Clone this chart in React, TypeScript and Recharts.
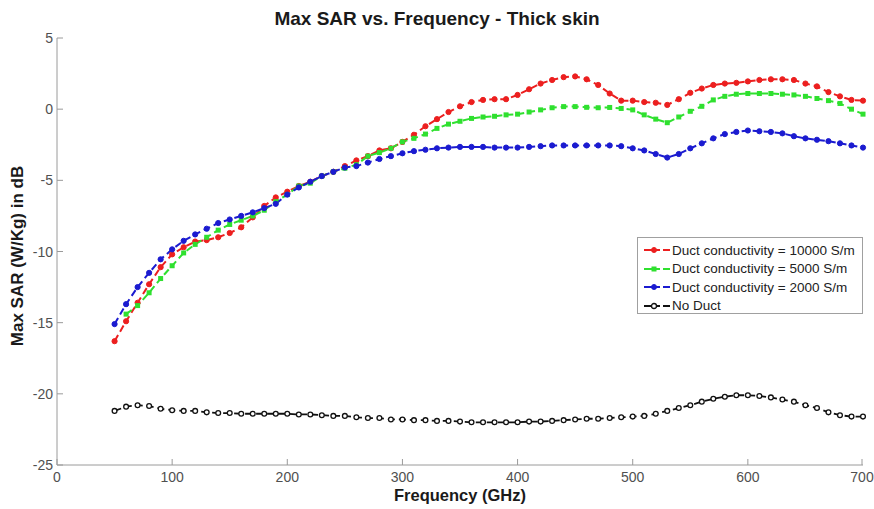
import React from "react";
import { LineChart, Line, XAxis, YAxis } from "recharts";

// Frequency samples (GHz)
const FREQS = [
  50, 60, 70, 80, 90, 100, 110, 120, 130, 140, 150, 160, 170, 180, 190, 200, 210, 220, 230, 240, 250,
  260, 270, 280, 290, 300, 310, 320, 330, 340, 350, 360, 370, 380, 390, 400, 410, 420, 430, 440, 450,
  460, 470, 480, 490, 500, 510, 520, 530, 540, 550, 560, 570, 580, 590, 600, 610, 620, 630, 640, 650,
  660, 670, 680, 690, 700,
];

// Max SAR in dB per duct conductivity
const DUCT_10000 = [
  -16.3, -14.9, -13.6, -12.3, -11.1, -10.2, -9.7, -9.3, -9.2, -9.0, -8.7, -8.3, -7.6, -6.8, -6.2, -5.8, -5.4, -5.1, -4.7, -4.4, -4.0,
  -3.6, -3.3, -2.9, -2.75, -2.3, -1.8, -1.2, -0.7, -0.2, 0.2, 0.5, 0.65, 0.7, 0.7, 1.0, 1.4, 1.8, 2.05, 2.25, 2.3,
  2.1, 1.7, 1.1, 0.6, 0.6, 0.5, 0.45, 0.3, 0.7, 1.15, 1.45, 1.7, 1.8, 1.85, 1.95, 2.05, 2.1, 2.1, 2.05, 1.8,
  1.6, 1.2, 0.9, 0.65, 0.6,
];

const DUCT_5000 = [
  null, -14.4, -13.8, -12.9, -11.9, -11.0, -10.1, -9.5, -9.0, -8.5, -8.1, -7.8, -7.5, -7.1, -6.5, -6.0, -5.4, -5.2, -4.7, -4.4, -4.15,
  -3.9, -3.3, -3.05, -2.75, -2.3, -2.05, -1.75, -1.35, -1.05, -0.85, -0.65, -0.55, -0.5, -0.4, -0.35, -0.2, -0.05, 0.1, 0.18, 0.18,
  0.13, 0.1, 0.12, 0.05, -0.05, -0.4, -0.7, -0.95, -0.55, -0.15, 0.2, 0.65, 0.9, 1.05, 1.1, 1.1, 1.1, 1.05, 1.0, 0.9,
  0.75, 0.6, 0.4, 0.0, -0.35,
];

const DUCT_2000 = [
  -15.1, -13.7, -12.5, -11.5, -10.55, -9.85, -9.25, -8.8, -8.4, -8.0, -7.75, -7.5, -7.25, -6.95, -6.65, -6.0, -5.5, -5.1, -4.7, -4.4, -4.1,
  -4.0, -3.75, -3.5, -3.3, -3.1, -2.95, -2.85, -2.75, -2.7, -2.65, -2.65, -2.65, -2.7, -2.7, -2.7, -2.65, -2.6, -2.55, -2.55, -2.55,
  -2.55, -2.55, -2.55, -2.6, -2.75, -2.9, -3.15, -3.4, -3.15, -2.75, -2.4, -2.05, -1.75, -1.6, -1.5, -1.55, -1.6, -1.7, -1.9, -2.05,
  -2.15, -2.25, -2.4, -2.55, -2.7,
];

const NO_DUCT = [
  -21.2, -20.9, -20.8, -20.85, -21.05, -21.15, -21.2, -21.2, -21.3, -21.35, -21.35, -21.4, -21.4, -21.4, -21.4, -21.4, -21.45, -21.45, -21.5, -21.55, -21.55,
  -21.65, -21.7, -21.7, -21.8, -21.8, -21.85, -21.85, -21.9, -21.9, -21.95, -22.0, -22.0, -22.0, -22.0, -22.0, -21.95, -21.95, -21.9, -21.85, -21.8,
  -21.75, -21.75, -21.7, -21.65, -21.6, -21.55, -21.4, -21.2, -21.0, -20.8, -20.55, -20.35, -20.2, -20.1, -20.1, -20.15, -20.25, -20.4, -20.55, -20.8,
  -21.0, -21.3, -21.5, -21.6, -21.6,
];

const X_TICKS = [0, 100, 200, 300, 400, 500, 600, 700];
const Y_TICKS = [-25, -20, -15, -10, -5, 0, 5];

const SERIES_NAMES = [
  "Duct conductivity = 10000 S/m",
  "Duct conductivity = 5000 S/m",
  "Duct conductivity = 2000 S/m",
  "No Duct",
];

const RED = "#ec1f1f";
const GREEN = "#2fe02f";
const BLUE = "#1b1bd0";
const BLACK = "#111";
const FONT = "'Liberation Sans', Arial, sans-serif";
const AXIS = "#9a9a9a";

const data = FREQS.map((f, i) => ({
  f,
  d10000: DUCT_10000[i],
  d5000: DUCT_5000[i],
  d2000: DUCT_2000[i],
  none: NO_DUCT[i],
}));

function XTick({ x, y, payload }: any) {
  return (
    <g>
      <line x1={x} x2={x} y1={y} y2={y - 6} stroke={AXIS} />
      <text x={x} y={y + 17} textAnchor="middle" fontSize={14} fill="#505050" fontFamily={FONT}>
        {payload.value}
      </text>
    </g>
  );
}

function YTick({ x, y, payload }: any) {
  return (
    <g>
      <line x1={x} x2={x + 6} y1={y} y2={y} stroke={AXIS} />
      <text x={x - 4} y={y + 5} textAnchor="end" fontSize={14} fill="#505050" fontFamily={FONT}>
        {payload.value}
      </text>
    </g>
  );
}

function SquareDot({ cx, cy, index }: any) {
  if (cx == null || cy == null) return <g key={index} />;
  return <rect key={index} x={cx - 2.5} y={cy - 2.5} width={5} height={5} fill={GREEN} />;
}

function LegendSwatch({ color, open, square }: { color: string; open?: boolean; square?: boolean }) {
  return (
    <svg width={28} height={10} style={{ marginRight: 2 }}>
      <line x1={2} x2={28} y1={5} y2={5} stroke={color} strokeWidth={2} strokeDasharray="16 3" />
      {square ? (
        <rect x={9.5} y={2.5} width={5} height={5} fill={color} />
      ) : (
        <circle cx={12} cy={5} r={2.5} fill={open ? "#fff" : color} stroke={color} strokeWidth={open ? 1.3 : 1} />
      )}
    </svg>
  );
}

const LEGEND_ROWS = [
  { color: RED },
  { color: GREEN, square: true },
  { color: BLUE },
  { color: BLACK, open: true },
];

export default function App() {
  return (
    <div style={{ position: "absolute", left: 0, top: 0, width: 874, height: 509, background: "#fff", fontFamily: FONT }}>
      <div style={{ position: "absolute", left: 0, top: 9, width: 874, textAlign: "center", fontSize: 19, fontWeight: "bold", color: "#1a1a1a", lineHeight: "20px" }}>
        Max SAR vs. Frequency - Thick skin
      </div>

      <LineChart width={874} height={509} data={data} margin={{ top: 38, right: 11, bottom: 14, left: 0 }}>
        <XAxis
          dataKey="f"
          type="number"
          domain={[0, 700]}
          ticks={X_TICKS}
          tickSize={0}
          tickMargin={0}
          height={30}
          stroke={AXIS}
          tick={<XTick />}
        />
        <YAxis
          type="number"
          domain={[-25, 5]}
          ticks={Y_TICKS}
          tickSize={0}
          tickMargin={0}
          width={57}
          stroke={AXIS}
          tick={<YTick />}
          allowDataOverflow
        />
        <Line
          type="linear"
          dataKey="d10000"
          stroke={RED}
          strokeWidth={2}
          strokeDasharray="7 4"
          dot={{ r: 2.6, fill: RED, stroke: RED, strokeWidth: 1, strokeDasharray: "" }}
          isAnimationActive={false}
        />
        <Line
          type="linear"
          dataKey="d5000"
          stroke={GREEN}
          strokeWidth={2}
          strokeDasharray="7 4"
          dot={<SquareDot />}
          isAnimationActive={false}
        />
        <Line
          type="linear"
          dataKey="d2000"
          stroke={BLUE}
          strokeWidth={2}
          strokeDasharray="7 4"
          dot={{ r: 2.6, fill: BLUE, stroke: BLUE, strokeWidth: 1, strokeDasharray: "" }}
          isAnimationActive={false}
        />
        <Line
          type="linear"
          dataKey="none"
          stroke={BLACK}
          strokeWidth={1.8}
          strokeDasharray="7 4"
          dot={{ r: 2.4, fill: "#fff", stroke: BLACK, strokeWidth: 1.3, strokeDasharray: "" }}
          isAnimationActive={false}
        />
      </LineChart>

      <div
        style={{
          position: "absolute",
          left: 637,
          top: 237,
          width: 226,
          height: 77,
          border: "1px solid #a0a0a0",
          background: "#fff",
          boxSizing: "border-box",
          padding: "3px 0 0 4px",
        }}
      >
        {LEGEND_ROWS.map((r, i) => (
          <div key={SERIES_NAMES[i]} style={{ display: "flex", alignItems: "center", height: 18.5, fontSize: 13.5, color: "#222" }}>
            <LegendSwatch color={r.color} open={r.open} square={r.square} />
            <span>{SERIES_NAMES[i]}</span>
          </div>
        ))}
      </div>

      <div style={{ position: "absolute", left: 57, top: 486, width: 806, textAlign: "center", fontSize: 16.5, fontWeight: "bold", color: "#1a1a1a" }}>
        Frequency (GHz)
      </div>
      <div
        style={{
          position: "absolute",
          left: 18,
          top: 256,
          transform: "translate(-50%, -50%) rotate(-90deg)",
          whiteSpace: "nowrap",
          fontSize: 17,
          fontWeight: "bold",
          color: "#1a1a1a",
        }}
      >
        Max SAR (W/Kg) in dB
      </div>
    </div>
  );
}
